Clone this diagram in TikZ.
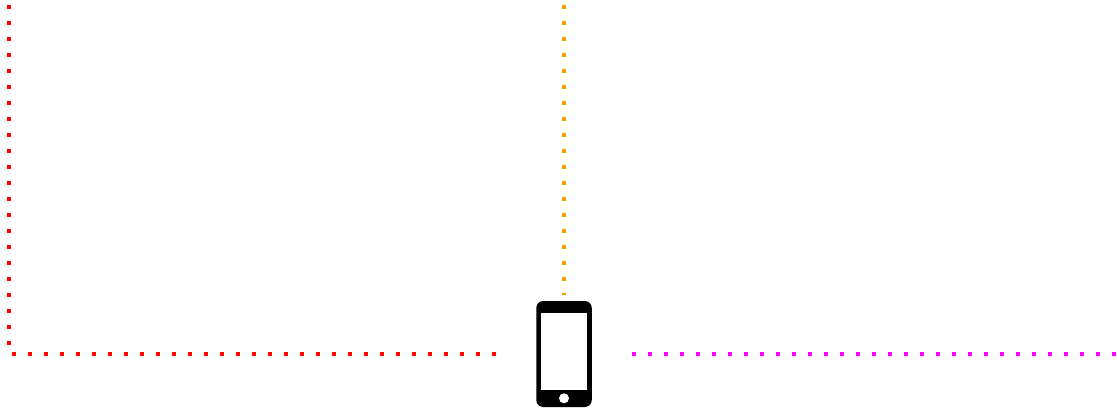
\documentclass[tikz,border=0pt]{standalone}
\usepackage{xcolor}
\usepackage{tikz}
\usetikzlibrary{positioning}
\definecolor{trackred}{RGB}{255,0,0}
\definecolor{trackorange}{RGB}{255,153,0}
\definecolor{trackmagenta}{RGB}{255,0,255}

\begin{document}
\begin{tikzpicture}[
x=1pt, y=-1pt,
phonebody/.style={rectangle, fill=black, rounded corners=7pt, inner sep=0pt, minimum width=55.5pt, minimum height=106pt},
phonescreen/.style={rectangle, fill=white, inner sep=0pt, minimum width=45.5pt, minimum height=76.5pt},
phonebutton/.style={circle, fill=white, inner sep=0pt, minimum size=10pt},
track/.style={line width=4pt, dash pattern=on 4pt off 12pt}
]
\useasboundingbox (0,0) rectangle (1117,409);
\node[phonebody] (phone) at (564,354) {};
\node[phonescreen] (screen) at (564,351.7) {};
\node[phonebutton] (button) at (564,398.3) {};
\coordinate (redstart) at (9,5);
\coordinate (redend) at (496,354.3);
\coordinate (orangestart) at (564,5);
\coordinate (orangeend) at (564,295);
\coordinate (magentastart) at (632,354.3);
\coordinate (magentaend) at (1117,354.3);
\draw[track, trackred] (redstart) |- (redend);
\draw[track, trackorange] (orangestart) -- (orangeend);
\draw[track, trackmagenta] (magentastart) -- (magentaend);
\end{tikzpicture}
\end{document}
